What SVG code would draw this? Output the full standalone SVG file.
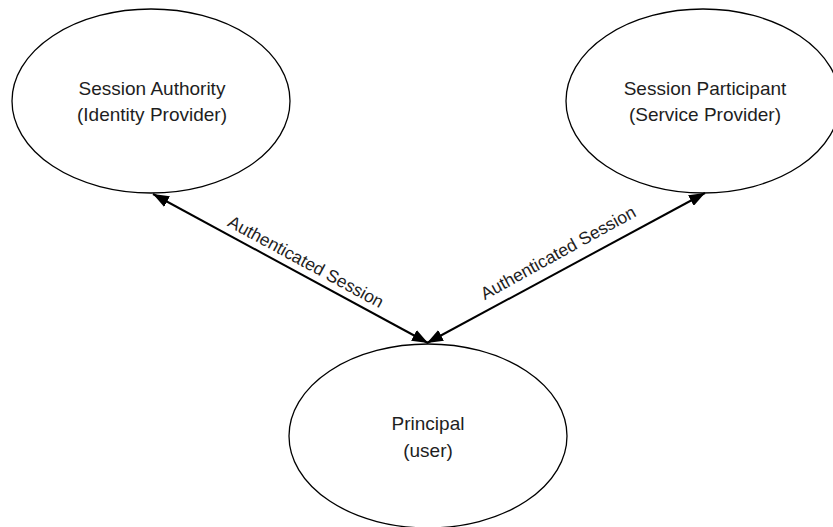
<svg xmlns="http://www.w3.org/2000/svg" width="833" height="527" viewBox="0 0 833 527">
  <style>
    .node ellipse { fill: #ffffff; stroke: #000000; stroke-width: 1.3; }
    .node text { font-family: "Liberation Sans", Arial, sans-serif; font-size: 19px; fill: #1e1e1e; text-anchor: middle; }
    .edge line { stroke: #000000; stroke-width: 2; }
    .edge text { font-family: "Liberation Sans", Arial, sans-serif; font-size: 17.5px; fill: #1e1e1e; text-anchor: middle; }
  </style>
  <defs>
    <marker id="arrow" viewBox="0 0 16 12" refX="16" refY="6" markerWidth="16" markerHeight="12" markerUnits="userSpaceOnUse" orient="auto-start-reverse">
      <path d="M0,0 L16,6 L0,12 z" fill="#000000"/>
    </marker>
  </defs>
  <rect width="833" height="527" fill="#ffffff"/>

  <g id="session-authority" class="node">
    <ellipse cx="151" cy="101" rx="139" ry="92"/>
    <text x="152" y="95">Session Authority</text>
    <text x="152" y="121">(Identity Provider)</text>
  </g>

  <g id="session-participant" class="node">
    <ellipse cx="703" cy="101" rx="137" ry="92"/>
    <text x="705" y="95">Session Participant</text>
    <text x="705" y="121">(Service Provider)</text>
  </g>

  <g id="principal" class="node">
    <ellipse cx="428" cy="436" rx="139" ry="92"/>
    <text x="428" y="430">Principal</text>
    <text x="428" y="457">(user)</text>
  </g>

  <g id="connectors" class="edge">
    <line x1="153" y1="194" x2="428" y2="343" marker-start="url(#arrow)" marker-end="url(#arrow)"/>
    <text transform="translate(303,267) rotate(28.4)">Authenticated Session</text>
    <line x1="427" y1="343" x2="705" y2="193" marker-start="url(#arrow)" marker-end="url(#arrow)"/>
    <text transform="translate(561,258) rotate(-29)">Authenticated Session</text>
  </g>
</svg>
